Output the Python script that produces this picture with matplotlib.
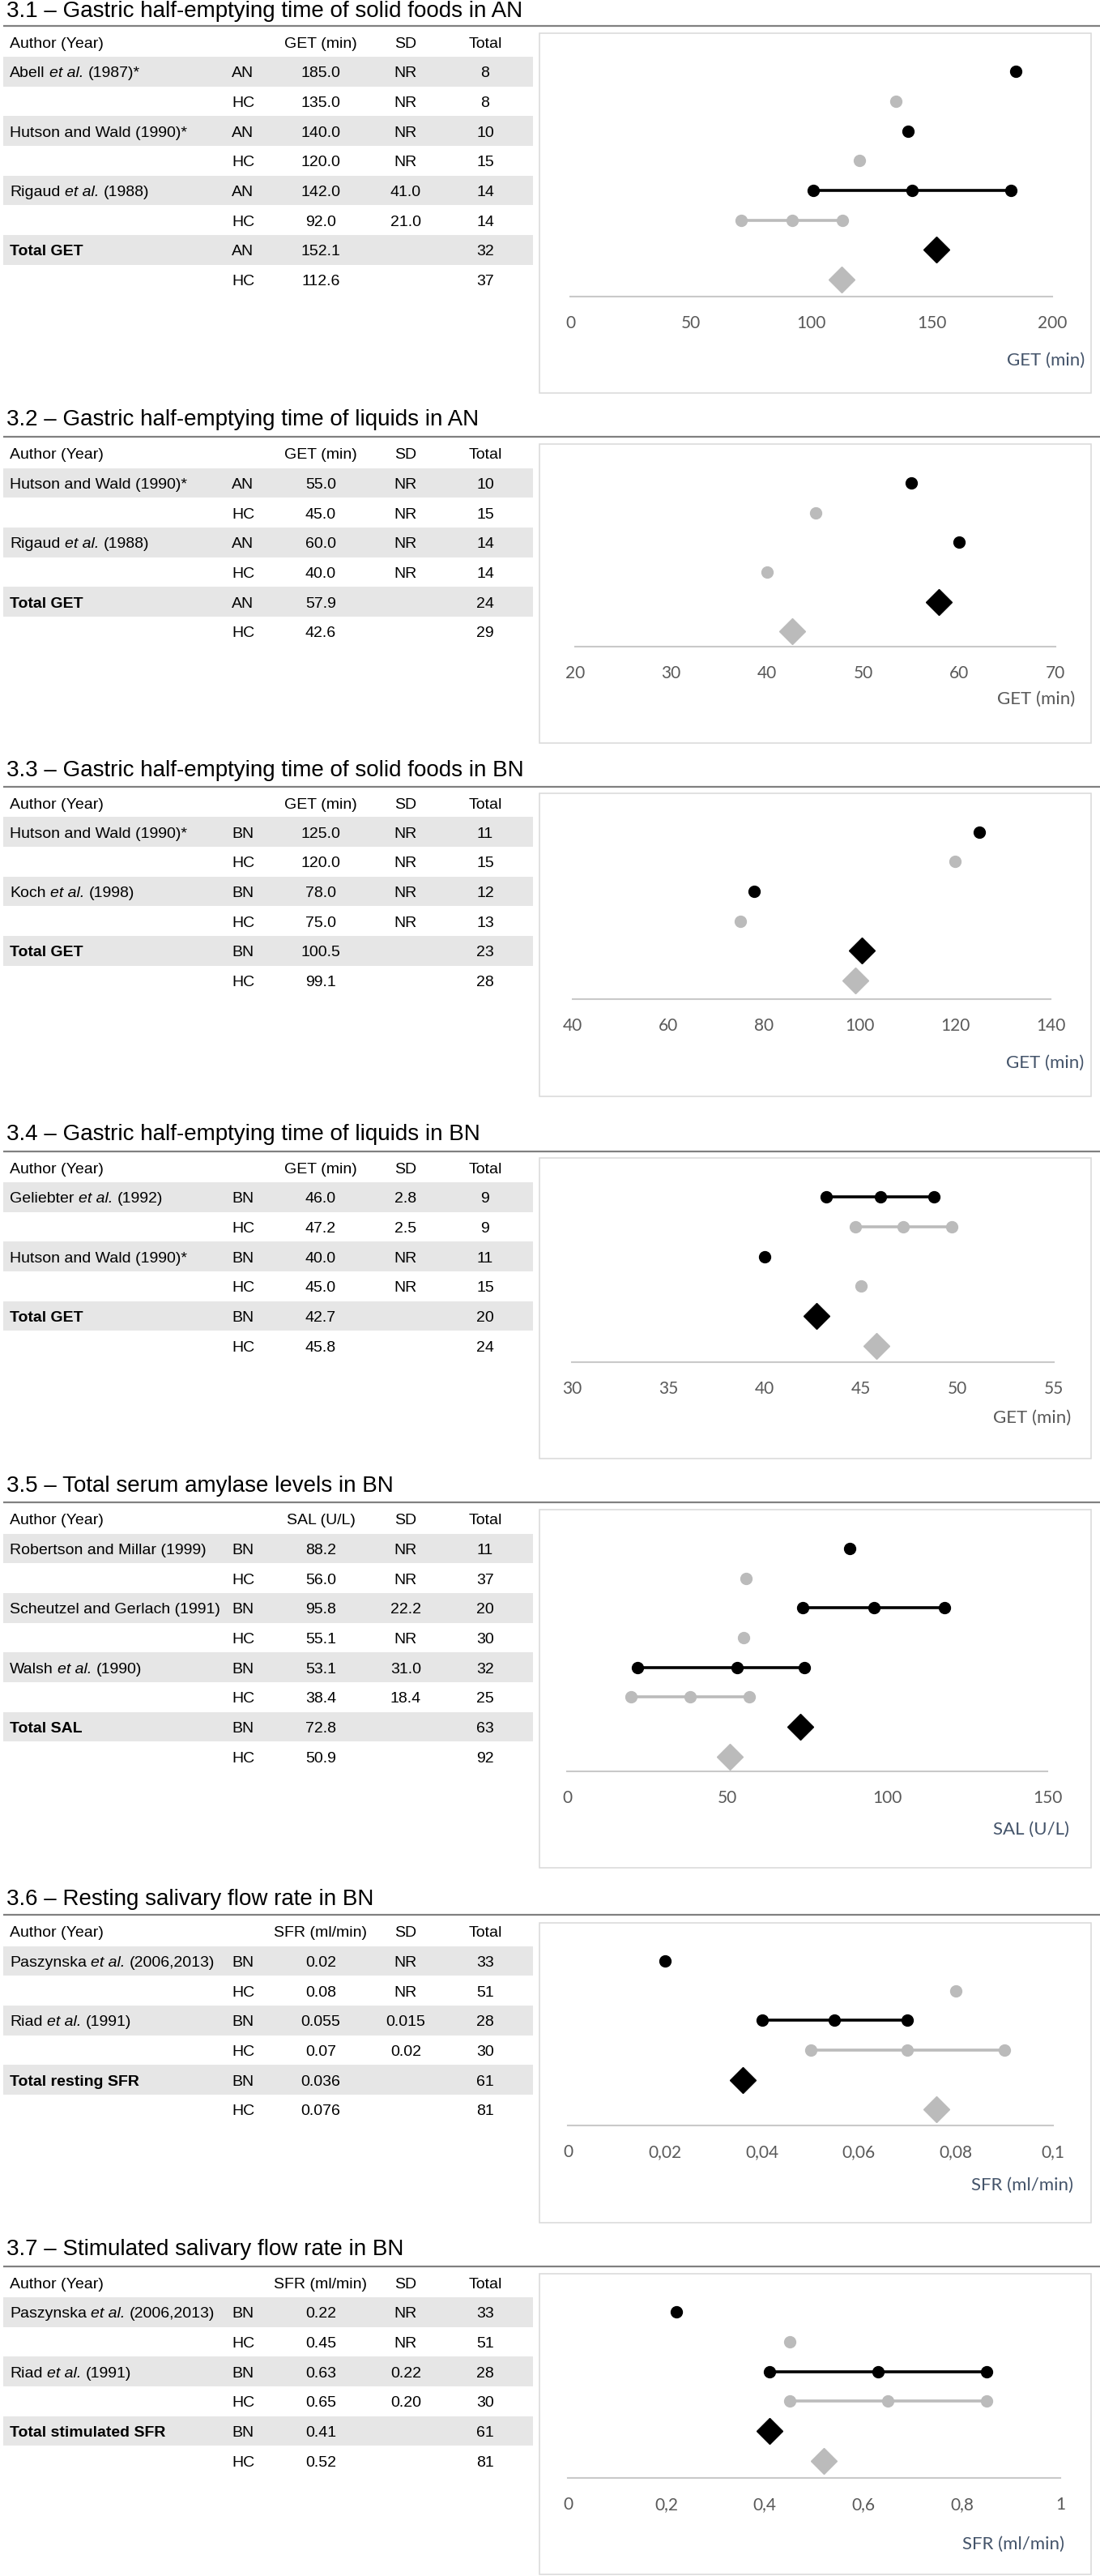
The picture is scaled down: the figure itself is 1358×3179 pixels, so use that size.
import matplotlib
matplotlib.use("Agg")
import matplotlib.pyplot as plt
from matplotlib.patches import Rectangle

plt.rcParams["font.family"] = ["Liberation Sans", "DejaVu Sans"]

# ======================= DATA =======================
# --- 3.1 ---
s1_title = "3.1 – Gastric half-emptying time of solid foods in AN"
s1_header = "GET (min)"
s1_xlabel = "GET (min)"
s1_authors = ["Abell et al. (1987)*", "", "Hutson and Wald (1990)*", "",
              "Rigaud et al. (1988)", "", "Total GET", ""]
s1_groups = ["AN", "HC", "AN", "HC", "AN", "HC", "AN", "HC"]
s1_mean = [185.0, 135.0, 140.0, 120.0, 142.0, 92.0, 152.1, 112.6]
s1_mean_txt = ["185.0", "135.0", "140.0", "120.0", "142.0", "92.0", "152.1", "112.6"]
s1_sd_txt = ["NR", "NR", "NR", "NR", "41.0", "21.0", "", ""]
s1_n = [8, 8, 10, 15, 14, 14, 32, 37]
s1_lo = [None, None, None, None, 101.0, 71.0, None, None]
s1_hi = [None, None, None, None, 183.0, 113.0, None, None]
s1_ticks = [0, 50, 100, 150, 200]
s1_ticklabels = ["0", "50", "100", "150", "200"]

# --- 3.2 ---
s2_title = "3.2 – Gastric half-emptying time of liquids in AN"
s2_header = "GET (min)"
s2_xlabel = "GET (min)"
s2_authors = ["Hutson and Wald (1990)*", "", "Rigaud et al. (1988)", "", "Total GET", ""]
s2_groups = ["AN", "HC", "AN", "HC", "AN", "HC"]
s2_mean = [55.0, 45.0, 60.0, 40.0, 57.9, 42.6]
s2_mean_txt = ["55.0", "45.0", "60.0", "40.0", "57.9", "42.6"]
s2_sd_txt = ["NR", "NR", "NR", "NR", "", ""]
s2_n = [10, 15, 14, 14, 24, 29]
s2_lo = [None, None, None, None, None, None]
s2_hi = [None, None, None, None, None, None]
s2_ticks = [20, 30, 40, 50, 60, 70]
s2_ticklabels = ["20", "30", "40", "50", "60", "70"]

# --- 3.3 ---
s3_title = "3.3 – Gastric half-emptying time of solid foods in BN"
s3_header = "GET (min)"
s3_xlabel = "GET (min)"
s3_authors = ["Hutson and Wald (1990)*", "", "Koch et al. (1998)", "", "Total GET", ""]
s3_groups = ["BN", "HC", "BN", "HC", "BN", "HC"]
s3_mean = [125.0, 120.0, 78.0, 75.0, 100.5, 99.1]
s3_mean_txt = ["125.0", "120.0", "78.0", "75.0", "100.5", "99.1"]
s3_sd_txt = ["NR", "NR", "NR", "NR", "", ""]
s3_n = [11, 15, 12, 13, 23, 28]
s3_lo = [None, None, None, None, None, None]
s3_hi = [None, None, None, None, None, None]
s3_ticks = [40, 60, 80, 100, 120, 140]
s3_ticklabels = ["40", "60", "80", "100", "120", "140"]

# --- 3.4 ---
s4_title = "3.4 – Gastric half-emptying time of liquids in BN"
s4_header = "GET (min)"
s4_xlabel = "GET (min)"
s4_authors = ["Geliebter et al. (1992)", "", "Hutson and Wald (1990)*", "", "Total GET", ""]
s4_groups = ["BN", "HC", "BN", "HC", "BN", "HC"]
s4_mean = [46.0, 47.2, 40.0, 45.0, 42.7, 45.8]
s4_mean_txt = ["46.0", "47.2", "40.0", "45.0", "42.7", "45.8"]
s4_sd_txt = ["2.8", "2.5", "NR", "NR", "", ""]
s4_n = [9, 9, 11, 15, 20, 24]
s4_lo = [43.2, 44.7, None, None, None, None]
s4_hi = [48.8, 49.7, None, None, None, None]
s4_ticks = [30, 35, 40, 45, 50, 55]
s4_ticklabels = ["30", "35", "40", "45", "50", "55"]

# --- 3.5 ---
s5_title = "3.5 – Total serum amylase levels in BN"
s5_header = "SAL (U/L)"
s5_xlabel = "SAL (U/L)"
s5_authors = ["Robertson and Millar (1999)", "", "Scheutzel and Gerlach (1991)", "",
              "Walsh et al. (1990)", "", "Total SAL", ""]
s5_groups = ["BN", "HC", "BN", "HC", "BN", "HC", "BN", "HC"]
s5_mean = [88.2, 56.0, 95.8, 55.1, 53.1, 38.4, 72.8, 50.9]
s5_mean_txt = ["88.2", "56.0", "95.8", "55.1", "53.1", "38.4", "72.8", "50.9"]
s5_sd_txt = ["NR", "NR", "22.2", "NR", "31.0", "18.4", "", ""]
s5_n = [11, 37, 20, 30, 32, 25, 63, 92]
s5_lo = [None, None, 73.6, None, 22.1, 20.0, None, None]
s5_hi = [None, None, 118.0, None, 74.0, 56.8, None, None]
s5_ticks = [0, 50, 100, 150]
s5_ticklabels = ["0", "50", "100", "150"]

# --- 3.6 ---
s6_title = "3.6 – Resting salivary flow rate in BN"
s6_header = "SFR (ml/min)"
s6_xlabel = "SFR (ml/min)"
s6_authors = ["Paszynska et al. (2006,2013)", "", "Riad et al. (1991)", "",
              "Total resting SFR", ""]
s6_groups = ["BN", "HC", "BN", "HC", "BN", "HC"]
s6_mean = [0.02, 0.08, 0.055, 0.07, 0.036, 0.076]
s6_mean_txt = ["0.02", "0.08", "0.055", "0.07", "0.036", "0.076"]
s6_sd_txt = ["NR", "NR", "0.015", "0.02", "", ""]
s6_n = [33, 51, 28, 30, 61, 81]
s6_lo = [None, None, 0.04, 0.05, None, None]
s6_hi = [None, None, 0.07, 0.09, None, None]
s6_ticks = [0, 0.02, 0.04, 0.06, 0.08, 0.1]
s6_ticklabels = ["0", "0,02", "0,04", "0,06", "0,08", "0,1"]

# --- 3.7 ---
s7_title = "3.7 – Stimulated salivary flow rate in BN"
s7_header = "SFR (ml/min)"
s7_xlabel = "SFR (ml/min)"
s7_authors = ["Paszynska et al. (2006,2013)", "", "Riad et al. (1991)", "",
              "Total stimulated SFR", ""]
s7_groups = ["BN", "HC", "BN", "HC", "BN", "HC"]
s7_mean = [0.22, 0.45, 0.63, 0.65, 0.41, 0.52]
s7_mean_txt = ["0.22", "0.45", "0.63", "0.65", "0.41", "0.52"]
s7_sd_txt = ["NR", "NR", "0.22", "0.20", "", ""]
s7_n = [33, 51, 28, 30, 61, 81]
s7_lo = [None, None, 0.41, 0.45, None, None]
s7_hi = [None, None, 0.85, 0.85, None, None]
s7_ticks = [0, 0.2, 0.4, 0.6, 0.8, 1.0]
s7_ticklabels = ["0", "0,2", "0,4", "0,6", "0,8", "1"]

sections = [
    (s1_title, s1_header, s1_xlabel, s1_authors, s1_groups, s1_mean, s1_mean_txt, s1_sd_txt, s1_n, s1_lo, s1_hi, s1_ticks, s1_ticklabels),
    (s2_title, s2_header, s2_xlabel, s2_authors, s2_groups, s2_mean, s2_mean_txt, s2_sd_txt, s2_n, s2_lo, s2_hi, s2_ticks, s2_ticklabels),
    (s3_title, s3_header, s3_xlabel, s3_authors, s3_groups, s3_mean, s3_mean_txt, s3_sd_txt, s3_n, s3_lo, s3_hi, s3_ticks, s3_ticklabels),
    (s4_title, s4_header, s4_xlabel, s4_authors, s4_groups, s4_mean, s4_mean_txt, s4_sd_txt, s4_n, s4_lo, s4_hi, s4_ticks, s4_ticklabels),
    (s5_title, s5_header, s5_xlabel, s5_authors, s5_groups, s5_mean, s5_mean_txt, s5_sd_txt, s5_n, s5_lo, s5_hi, s5_ticks, s5_ticklabels),
    (s6_title, s6_header, s6_xlabel, s6_authors, s6_groups, s6_mean, s6_mean_txt, s6_sd_txt, s6_n, s6_lo, s6_hi, s6_ticks, s6_ticklabels),
    (s7_title, s7_header, s7_xlabel, s7_authors, s7_groups, s7_mean, s7_mean_txt, s7_sd_txt, s7_n, s7_lo, s7_hi, s7_ticks, s7_ticklabels),
]

# ======================= LAYOUT (pixels) =======================
W, H, DPI = 1358, 3179, 100
ROW_H = 36.67
NAVY = "#44546A"
TICKC = "#595959"
layout = [
    dict(title=21, line=32, bt=41, bb=485, header=52, row0=88.3, axis=366, tick=397, label=445, x0=704, x1=1299, lx=1339, lc=NAVY),
    dict(title=525, line=539, bt=548, bb=917, header=559, row0=596, axis=798, tick=829, label=863, x0=710, x1=1303, lx=1327, lc=TICKC),
    dict(title=958, line=971, bt=979, bb=1353, header=991, row0=1026.7, axis=1233, tick=1265, label=1312, x0=707, x1=1297, lx=1338, lc=NAVY),
    dict(title=1407, line=1421, bt=1429, bb=1800, header=1441, row0=1477.3, axis=1681, tick=1713, label=1750, x0=706, x1=1301, lx=1322, lc=TICKC),
    dict(title=1841, line=1854, bt=1863, bb=2305, header=1874, row0=1911, axis=2186, tick=2217, label=2258, x0=700, x1=1293, lx=1320, lc=NAVY),
    dict(title=2351, line=2363, bt=2373, bb=2743, header=2383, row0=2420, axis=2623, tick=2655, label=2697, x0=701, x1=1300, lx=1325, lc=NAVY),
    dict(title=2783, line=2797, bt=2806, bb=3177, header=2817, row0=2853.3, axis=3058, tick=3090, label=3140, x0=701, x1=1309, lx=1314, lc=NAVY),
]
BOX_L, BOX_R = 666, 1347
COL_AUTH, COL_GRP, COL_MEAN, COL_SD, COL_N = 12, 300, 396, 501, 599
BAND_L, BAND_R = 4, 658
BAND_C = "#E6E6E6"
FRAME_C = "#D9D9D9"
AXIS_C = "#C9C9C9"
SEP_C = "#808080"
BLACK = "#000000"
GRAY = "#BBBBBB"
TFS = 14          # table font size
TITLE_FS = 20
BASE_OFF = 7.0    # centre -> baseline offset for table text (px)

fig = plt.figure(figsize=(W / DPI, H / DPI), dpi=DPI)
bg = fig.add_axes([0, 0, 1, 1])
bg.set_xlim(0, W)
bg.set_ylim(H, 0)
bg.axis("off")
renderer = fig.canvas.get_renderer()


def text_width(s, **kw):
    t = bg.text(0, 0, s, fontsize=TFS, **kw)
    w = t.get_window_extent(renderer=renderer).width
    t.remove()
    return w


SPACE_W = text_width("x x") - text_width("xx")


def author_text(x, y, s, bold):
    """Draw author label; 'et al.' in italics."""
    weight = "bold" if bold else "normal"
    key = "et al."
    if key not in s:
        bg.text(x, y, s, fontsize=TFS, ha="left", va="baseline", fontweight=weight, zorder=2)
        return
    pre, post = s.split(key, 1)
    pre = pre.rstrip()
    post = post.lstrip()
    t1 = bg.text(x, y, pre, fontsize=TFS, ha="left", va="baseline", fontweight=weight, zorder=2)
    x2 = x + t1.get_window_extent(renderer=renderer).width + SPACE_W
    t2 = bg.text(x2, y, key, fontsize=TFS, ha="left", va="baseline", style="italic", zorder=2)
    x3 = x2 + t2.get_window_extent(renderer=renderer).width + SPACE_W
    bg.text(x3, y, post, fontsize=TFS, ha="left", va="baseline", fontweight=weight, zorder=2)


for sec, L in zip(sections, layout):
    (title, header, xlabel, authors, groups, mean, mean_txt, sd_txt, n,
     lo, hi, ticks, ticklabels) = sec
    nrows = len(mean)

    # title + separator
    bg.text(8, L["title"], title, fontsize=TITLE_FS, ha="left", va="baseline", color="#000000")
    bg.plot([4, W], [L["line"], L["line"]], color=SEP_C, lw=1.6, solid_capstyle="butt")

    # header
    hy = L["header"] + BASE_OFF
    bg.text(COL_AUTH, hy, "Author (Year)", fontsize=TFS, ha="left", va="baseline")
    bg.text(COL_MEAN, hy, header, fontsize=TFS, ha="center", va="baseline")
    bg.text(COL_SD, hy, "SD", fontsize=TFS, ha="center", va="baseline")
    bg.text(COL_N, hy, "Total", fontsize=TFS, ha="center", va="baseline")

    # rows
    for i in range(nrows):
        yc = L["row0"] + i * ROW_H
        if i % 2 == 0:
            bg.add_patch(Rectangle((BAND_L, yc - ROW_H / 2), BAND_R - BAND_L, ROW_H,
                                   facecolor=BAND_C, edgecolor="none", zorder=0))
        yb = yc + BASE_OFF
        author_text(COL_AUTH, yb, authors[i], authors[i].startswith("Total"))
        bg.text(COL_GRP, yb, groups[i], fontsize=TFS, ha="center", va="baseline", zorder=2)
        bg.text(COL_MEAN, yb, mean_txt[i], fontsize=TFS, ha="center", va="baseline", zorder=2)
        bg.text(COL_SD, yb, sd_txt[i], fontsize=TFS, ha="center", va="baseline", zorder=2)
        bg.text(COL_N, yb, str(n[i]), fontsize=TFS, ha="center", va="baseline", zorder=2)

    # plot frame
    bt, bb = L["bt"], L["bb"]
    bg.add_patch(Rectangle((BOX_L, bt), BOX_R - BOX_L, bb - bt, fill=False,
                           edgecolor=FRAME_C, lw=1.1, zorder=1))

    # plot axes covering the frame
    ax = fig.add_axes([BOX_L / W, 1 - bb / H, (BOX_R - BOX_L) / W, (bb - bt) / H])
    ax.patch.set_alpha(0)
    xmin, xmax = ticks[0], ticks[-1]
    dpp = (xmax - xmin) / (L["x1"] - L["x0"])
    ax.set_xlim(xmin - (L["x0"] - BOX_L) * dpp, xmax + (BOX_R - L["x1"]) * dpp)
    ax.set_ylim((bb - L["row0"]) / ROW_H, -(L["row0"] - bt) / ROW_H)
    for s in ["top", "left", "right"]:
        ax.spines[s].set_visible(False)
    ax.spines["bottom"].set_position(("data", (L["axis"] - L["row0"]) / ROW_H))
    ax.spines["bottom"].set_bounds(xmin, xmax)
    ax.spines["bottom"].set_color(AXIS_C)
    ax.spines["bottom"].set_linewidth(1.5)
    ax.set_yticks([])
    ax.set_xticks(ticks)
    ax.set_xticklabels(ticklabels, fontfamily="Lato", fontsize=15, color=TICKC)
    ax.tick_params(axis="x", length=0, pad=16.5)
    ax.set_xlabel(xlabel, fontfamily="Lato", fontsize=16, color=L["lc"], ha="right", va="center")
    ax.xaxis.set_label_coords((L["lx"] - BOX_L) / (BOX_R - BOX_L), (bb - L["label"]) / (bb - bt))

    for i in range(nrows):
        col = GRAY if groups[i] == "HC" else BLACK
        if lo[i] is not None:
            ax.plot([lo[i], mean[i], hi[i]], [i, i, i], "-o", color=col, lw=2.6, ms=10,
                    zorder=3 if col == BLACK else 2, clip_on=False)
        elif i >= nrows - 2:
            ax.plot([mean[i]], [i], "D", color=col, ms=16, zorder=3, clip_on=False)
        else:
            ax.plot([mean[i]], [i], "o", color=col, ms=10, zorder=3, clip_on=False)

fig.savefig("out.png", dpi=DPI, facecolor="white")
